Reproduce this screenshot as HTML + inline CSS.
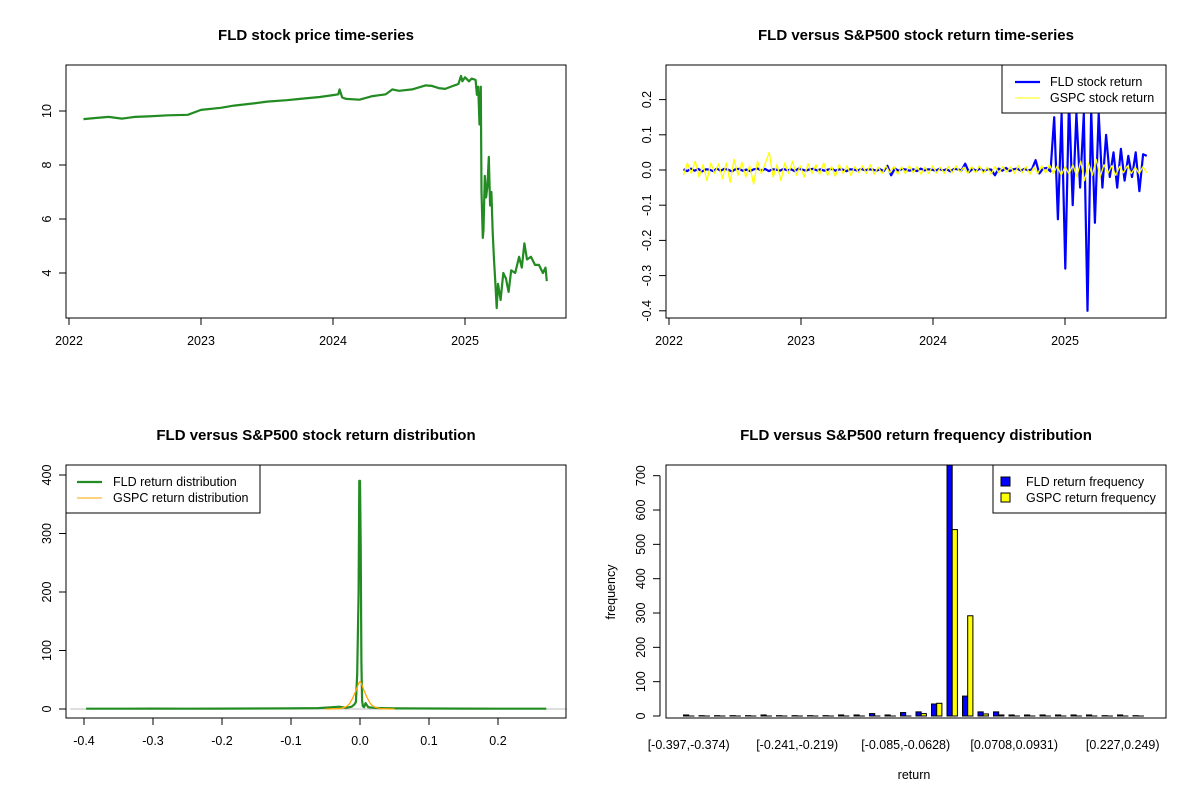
<!DOCTYPE html>
<html><head><meta charset="utf-8"><title>FLD vs S&P500</title>
<style>
html,body{margin:0;padding:0;background:#fff;}
svg{display:block;font-family:"Liberation Sans",Arial,sans-serif;}
.t{font-size:15px;font-weight:bold;text-anchor:middle;}
.tk{font-size:12.5px;}
</style></head>
<body>
<svg id="chart" width="1200" height="800" viewBox="0 0 1200 800" xmlns="http://www.w3.org/2000/svg"></svg>
<script>
// ---------- Panel 1: price data ----------
const priceDates = [2022.11,2022.2,2022.3,2022.4,2022.5,2022.6,2022.75,2022.9,2023.0,2023.15,2023.25,2023.4,2023.5,2023.65,2023.75,2023.9,2024.0,2024.04,2024.05,2024.07,2024.1,2024.2,2024.3,2024.4,2024.45,2024.5,2024.6,2024.7,2024.75,2024.8,2024.85,2024.92,2024.95,2024.97,2024.98,2025.0,2025.03,2025.05,2025.08,2025.09,2025.10,2025.11,2025.12,2025.125,2025.135,2025.14,2025.15,2025.16,2025.17,2025.18,2025.19,2025.20,2025.21,2025.22,2025.23,2025.24,2025.25,2025.27,2025.29,2025.31,2025.33,2025.35,2025.38,2025.41,2025.43,2025.45,2025.47,2025.50,2025.53,2025.56,2025.59,2025.61,2025.62];
const prices = [9.70,9.74,9.78,9.72,9.78,9.80,9.84,9.86,10.04,10.12,10.2,10.28,10.35,10.40,10.45,10.52,10.59,10.62,10.80,10.50,10.45,10.42,10.55,10.62,10.80,10.75,10.80,10.95,10.93,10.85,10.82,10.95,11.0,11.3,11.1,11.25,11.1,11.2,11.15,10.6,10.9,9.5,10.9,7.0,5.3,5.6,7.6,6.8,7.2,8.3,6.5,7.0,5.5,4.5,3.6,2.7,3.6,3.0,4.0,3.8,3.3,4.1,4.0,4.6,4.2,5.1,4.5,4.6,4.3,4.3,4.0,4.2,3.7];
const priceTicks = [4,6,8,10];
const yearTicks = [2022,2023,2024,2025];

// ---------- Panel 2: returns ----------
const retStart = 2022.11, retEnd = 2025.62;
const fldReturns = [0.002,-0.003,0.004,-0.002,0.003,-0.004,0.002,0.001,-0.003,0.004,-0.002,0.003,0.001,-0.004,0.002,0.003,-0.002,0.001,-0.003,0.002,0.004,-0.002,0.003,-0.003,0.002,0.001,-0.002,0.003,-0.001,0.002,-0.003,0.004,0.001,-0.002,0.002,0.003,-0.001,0.002,-0.002,0.001,0.003,-0.002,0.002,0.001,-0.003,0.002,0.001,-0.002,0.003,-0.001,0.002,0.001,-0.002,0.002,-0.003,0.012,-0.015,0.004,-0.002,0.003,0.001,-0.002,0.002,-0.003,0.004,-0.001,0.002,0.001,-0.002,0.003,-0.001,0.002,-0.004,0.003,0.002,-0.001,0.018,-0.006,0.003,-0.002,0.004,-0.003,0.002,0.001,-0.015,0.004,-0.002,0.006,-0.003,0.002,0.004,-0.002,0.003,-0.001,0.002,0.028,-0.01,0.004,0.006,-0.004,0.15,-0.14,0.16,-0.28,0.20,-0.10,0.16,-0.05,0.16,-0.40,0.17,-0.15,0.16,-0.05,0.10,-0.02,0.05,-0.05,0.06,-0.03,0.04,-0.02,0.05,-0.06,0.045,0.04];
const gspcReturns = [-0.015,0.02,-0.01,0.025,-0.02,0.015,-0.03,0.02,-0.01,0.018,-0.025,0.02,-0.035,0.03,-0.015,0.022,-0.02,0.012,-0.04,0.025,-0.01,0.02,0.05,-0.02,0.015,-0.03,0.02,-0.01,0.025,-0.015,0.012,-0.02,0.018,-0.01,0.015,-0.012,0.02,-0.015,0.01,-0.018,0.015,-0.01,0.012,-0.015,0.01,-0.008,0.012,-0.01,0.015,-0.012,0.008,-0.01,0.012,-0.008,0.01,-0.012,0.009,-0.01,0.012,-0.008,0.01,-0.012,0.008,-0.01,0.012,-0.009,0.008,-0.01,0.01,-0.008,0.012,-0.006,0.008,-0.01,0.01,-0.008,0.012,-0.01,0.008,-0.012,0.01,-0.008,0.01,-0.006,0.009,-0.01,0.012,-0.008,0.01,-0.012,0.008,-0.01,0.012,-0.008,0.015,-0.01,0.012,-0.015,0.01,-0.012,0.015,-0.02,0.025,-0.03,0.02,-0.015,0.03,-0.02,0.015,-0.01,0.012,-0.015,0.01,-0.008,0.012,-0.01,0.008,-0.01,0.009,-0.008];
const retTicks = [-0.4,-0.3,-0.2,-0.1,0.0,0.1,0.2];

// ---------- Panel 3: densities ----------
const fldDensX = [-0.397,-0.35,-0.3,-0.25,-0.2,-0.15,-0.1,-0.06,-0.04,-0.03,-0.02,-0.012,-0.008,-0.006,-0.004,-0.002,-0.001,0.0,0.001,0.002,0.003,0.004,0.006,0.008,0.012,0.02,0.03,0.05,0.1,0.15,0.2,0.27];
const fldDensY = [0.5,0.5,0.6,0.5,0.7,0.8,1.0,1.5,3,4,2,4,8,12,60,200,390,390,280,80,15,5,3,10,3,2,1.5,1,0.8,0.6,0.5,0.5];
const gspcDensX = [-0.05,-0.03,-0.02,-0.015,-0.01,-0.005,-0.002,0.0,0.002,0.005,0.01,0.015,0.02,0.03,0.05];
const gspcDensY = [0,0.5,4,9,20,34,44,47,44,34,20,9,4,0.5,0];
const densXTicks = [-0.4,-0.3,-0.2,-0.1,0.0,0.1,0.2];
const densYTicks = [0,100,200,300,400];

// ---------- Panel 4: frequencies ----------
const binLabels = ["[-0.397,-0.374)","","","","","","","[-0.241,-0.219)","","","","","","","[-0.085,-0.0628)","","","","","","","[0.0708,0.0931)","","","","","","","[0.227,0.249)",""];
const fldFreq  = [3,1,1,1,1,3,1,1,1,1,3,3,7,3,10,12,35,731,58,12,12,3,3,3,3,3,3,1,3,1];
const gspcFreq = [0,0,0,0,0,0,0,0,0,0,0,0,0,0,0,7,37,543,292,6,3,0,0,0,0,0,0,0,0,0];
const freqTicks = [0,100,200,300,400,500,600,700];

const svg = document.getElementById('chart');
const NS = 'http://www.w3.org/2000/svg';
function mk(tag, attrs, parent){
  const e = document.createElementNS(NS, tag);
  for (const k in attrs) e.setAttribute(k, attrs[k]);
  (parent||svg).appendChild(e);
  return e;
}
function txt(x,y,s,cls,anchor,rot,parent){
  const e = mk('text',{x:x,y:y,class:cls,'text-anchor':anchor||'middle'},parent);
  if(rot) e.setAttribute('transform','rotate(-90 '+x+' '+y+')');
  e.textContent = s;
  return e;
}
function grp(name){
  const g = mk('g',{});
  
  
  return g;
}
function box(g,x0,y0,x1,y1){
  const r = mk('rect',{x:x0,y:y0,width:x1-x0,height:y1-y0,fill:'none',stroke:'#000','stroke-width':1},g);
  
  
}
function yAxis(g,xAxis,vals,sy,fmt){
  const a = grp('y-axis'); g.appendChild(a);
  mk('line',{x1:xAxis,x2:xAxis,y1:sy(vals[0]),y2:sy(vals[vals.length-1]),stroke:'#000'},a);
  vals.forEach(v=>{
    const y=sy(v);
    mk('line',{x1:xAxis-7,x2:xAxis,y1:y,y2:y,stroke:'#000'},a);
    const t = txt(xAxis-15,y,fmt?fmt(v):String(v),'tk','middle',true,a);
    
    
  });
}
function xAxis(g,yAx,vals,sx,fmt,labY){
  const a = grp('x-axis'); g.appendChild(a);
  mk('line',{x1:sx(vals[0]),x2:sx(vals[vals.length-1]),y1:yAx,y2:yAx,stroke:'#000'},a);
  vals.forEach(v=>{
    const x=sx(v);
    mk('line',{x1:x,x2:x,y1:yAx,y2:yAx+7,stroke:'#000'},a);
    const t = txt(x,labY,fmt?fmt(v):String(v),'tk','middle',false,a);
    
    
  });
}
function poly(g,pts,color,w,name){
  const p = mk('polyline',{points:pts.map(p=>p[0].toFixed(1)+','+p[1].toFixed(1)).join(' '),fill:'none',stroke:color,'stroke-width':w,'stroke-linejoin':'round'},g);
  
  
}

// ===== Panel 1 =====
(function(){
  const g = grp('price-panel');
  const sx = y => 69 + (y-2022)*132;
  const sy = v => 273 - (v-4)*27;
  const t = txt(316,40,'FLD stock price time-series','t','middle',false,g);
   
  poly(g, priceDates.map((d,i)=>[sx(d),sy(prices[i])]), '#228B22', 2.2, 'price-line');
  box(g,66,65,566,318);
  yAxis(g,66,priceTicks,sy);
  xAxis(g,318,yearTicks,sx,null,345);
})();

// ===== Panel 2 =====
(function(){
  const g = grp('returns-panel');
  const sx = y => 669 + (y-2022)*132;
  const sy = v => 170 - v*352;
  const t = txt(916,40,'FLD versus S&P500 stock return time-series','t','middle',false,g);
   
  const n1 = fldReturns.length, n2 = gspcReturns.length;
  poly(g, fldReturns.map((v,i)=>[sx(retStart+i*(retEnd-retStart)/(n1-1)),sy(v)]), '#0000FF', 2.2, 'fld-return-line');
  poly(g, gspcReturns.map((v,i)=>[sx(retStart+i*(retEnd-retStart)/(n2-1)),sy(v)]), '#FFFF00', 1.3, 'gspc-return-line');
  box(g,666,65,1166,318);
  yAxis(g,666,retTicks,sy,v=>v.toFixed(1));
  xAxis(g,318,yearTicks,sx,null,345);
  const lg = grp('returns-legend'); g.appendChild(lg);
  mk('rect',{x:1002,y:65,width:164,height:48,fill:'#fff',stroke:'#000'},lg);
  mk('line',{x1:1015,x2:1040,y1:82,y2:82,stroke:'#0000FF','stroke-width':2.2},lg);
  mk('line',{x1:1015,x2:1040,y1:98,y2:98,stroke:'#FFFF00','stroke-width':1},lg);
  let e=txt(1050,86,'FLD stock return','tk','start',false,lg);  
  e=txt(1050,102,'GSPC stock return','tk','start',false,lg);  
})();

// ===== Panel 3 =====
(function(){
  const g = grp('density-panel');
  const sx = v => 360 + v*690;
  const sy = v => 709 - v*0.585;
  const t = txt(316,440,'FLD versus S&P500 stock return distribution','t','middle',false,g);
   
  mk('line',{x1:sx(-0.42),x2:sx(0.3),y1:sy(0),y2:sy(0),stroke:'#BEBEBE'},g);
  poly(g, fldDensX.map((x,i)=>[sx(x),sy(fldDensY[i])]), '#228B22', 2.2, 'fld-density-line');
  poly(g, gspcDensX.map((x,i)=>[sx(x),sy(gspcDensY[i])]), '#FFA500', 1.3, 'gspc-density-line');
  box(g,66,465,566,718);
  yAxis(g,66,densYTicks,sy);
  xAxis(g,718,densXTicks,sx,v=>v.toFixed(1),745);
  const lg = grp('density-legend'); g.appendChild(lg);
  mk('rect',{x:66,y:465,width:194,height:48,fill:'#fff',stroke:'#000'},lg);
  mk('line',{x1:77,x2:102,y1:482,y2:482,stroke:'#228B22','stroke-width':2.2},lg);
  mk('line',{x1:77,x2:102,y1:498,y2:498,stroke:'#FFA500','stroke-width':1},lg);
  let e=txt(113,486,'FLD return distribution','tk','start',false,lg);  
  e=txt(113,502,'GSPC return distribution','tk','start',false,lg);  
})();

// ===== Panel 4 =====
(function(){
  const g = grp('frequency-panel');
  const sy = v => 716 - v*0.3433;
  const gx = i => 683.5 + i*15.5;
  const bw = 5.2;
  const t = txt(916,440,'FLD versus S&P500 return frequency distribution','t','middle',false,g);
   
  const clip = mk('clipPath',{id:'c4'},g);
  mk('rect',{x:666,y:465,width:500,height:253},clip);
  const bars = mk('g',{'clip-path':'url(#c4)'},g);
  fldFreq.forEach((v,i)=>{
    const r = mk('rect',{x:gx(i),y:sy(v),width:bw,height:Math.max(sy(0)-sy(v),0.01),fill:'#0000FF',stroke:'#000','stroke-width':1},bars);
    
    
    const r2 = mk('rect',{x:gx(i)+bw,y:sy(gspcFreq[i]),width:bw,height:Math.max(sy(0)-sy(gspcFreq[i]),0.01),fill:'#FFFF00',stroke:'#000','stroke-width':1},bars);
    
    
  });
  box(g,666,465,1166,718);
  yAxis(g,660,freqTicks,sy);
  binLabels.forEach((s,i)=>{
    if(!s) return;
    const e = txt(gx(i)+bw,749,s,'tk','middle',false,g);
    
    
  });
  let e = txt(914,779,'return','tk','middle',false,g);
   
  e = txt(615,592,'frequency','tk','middle',true,g);
   
  const lg = grp('frequency-legend'); g.appendChild(lg);
  mk('rect',{x:993,y:465,width:173,height:48,fill:'#fff',stroke:'#000'},lg);
  mk('rect',{x:1001,y:477,width:9,height:9,fill:'#0000FF',stroke:'#000'},lg);
  mk('rect',{x:1001,y:493,width:9,height:9,fill:'#FFFF00',stroke:'#000'},lg);
  e=txt(1026,486,'FLD return frequency','tk','start',false,lg);  
  e=txt(1026,502,'GSPC return frequency','tk','start',false,lg);  
})();
</script>
</body></html>
